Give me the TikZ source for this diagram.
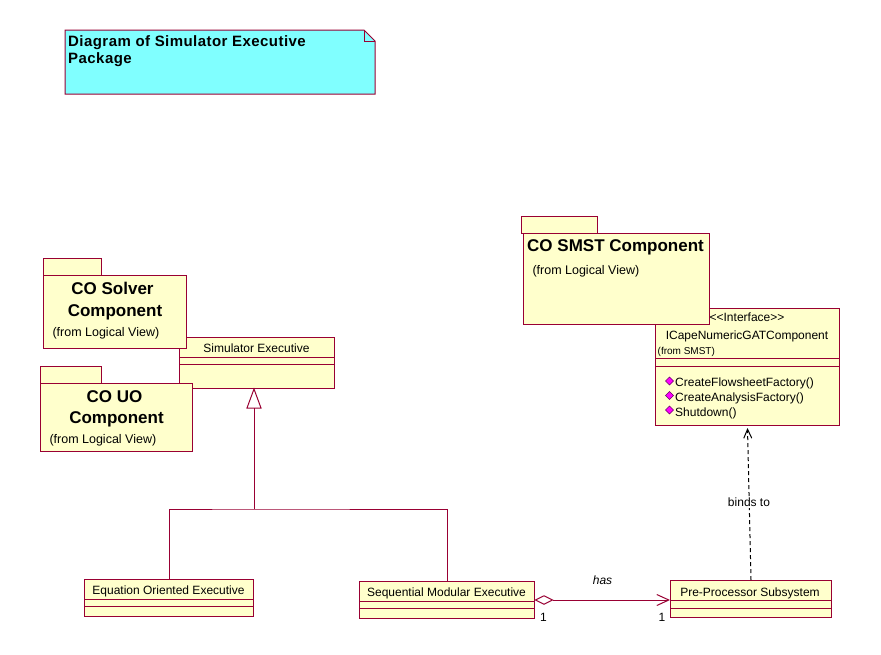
\documentclass[tikz,border=0pt]{standalone}
\usepackage{fontspec}
\setmainfont{Liberation Sans}
\usetikzlibrary{arrows.meta}
\definecolor{border}{HTML}{990033}
\definecolor{clsfill}{HTML}{FFFFCC}
\definecolor{notefill}{HTML}{80FFFF}
\definecolor{opmag}{HTML}{FF00FF}
\definecolor{opdark}{HTML}{660066}
\tikzset{
  box/.style={draw=border, fill=clsfill, line width=1pt, inner sep=0pt, anchor=north west},
  cline/.style={draw=border, line width=1pt},
  conn/.style={draw=border, line width=1pt},
  txt/.style={inner sep=0pt, anchor=base, font=\fontsize{12}{14}\selectfont},
  txtw/.style={inner sep=0pt, anchor=base west, font=\fontsize{12}{14}\selectfont},
  pkgtitle/.style={inner sep=0pt, anchor=base, font=\fontsize{17}{20}\selectfont\bfseries},
  fromlv/.style={inner sep=0pt, anchor=base west, font=\fontsize{12.5}{15}\selectfont},
  notetxt/.style={inner sep=0pt, anchor=base west, font=\fontsize{15}{18}\selectfont\bfseries\addfontfeature{LetterSpace=3}},
  opdia/.style={fill=opmag, draw=opdark, line width=0.5pt},
}
\begin{document}
\begin{tikzpicture}[x=1pt,y=-1pt]
\useasboundingbox (0,0) rectangle (881,654);
\fill[white] (0,0) rectangle (881,654);

% Note
\draw[draw=border, fill=notefill, line width=1pt] (65,30) -- (364,30) -- (375,41) -- (375,94) -- (65,94) -- cycle;
\draw[draw=border, line width=0.6pt] (364,30) -- (364,41) -- (375,41);
\node[notetxt] (note1) at (68,46) {Diagram of Simulator Executive};
\node[notetxt] (note2) at (68,63.5) {Package};

% Simulator Executive class
\node[box, minimum width=155pt, minimum height=51pt] (simexec) at (179,337) {};
\draw[cline] ([yshift=-20pt]simexec.north west) -- ([yshift=-20pt]simexec.north east);
\draw[cline] ([yshift=-27pt]simexec.north west) -- ([yshift=-27pt]simexec.north east);
\node[txt] (simexecname) at (256.5,352.5) {Simulator Executive};

% CO Solver Component package
\node[box, minimum width=58pt, minimum height=17pt] (solvertab) at (43,258) {};
\node[box, minimum width=143pt, minimum height=73pt] (solver) at (43,275) {};
\node[pkgtitle] (solvert1) at (112.5,294.5) {CO Solver};
\node[pkgtitle] (solvert2) at (115,316) {Component};
\node[fromlv] (solverfrom) at (52.3,336.7) {(from Logical View)};

% CO UO Component package
\node[box, minimum width=61pt, minimum height=17pt] (uotab) at (40,366) {};
\node[box, minimum width=152pt, minimum height=68pt] (uo) at (40,383) {};
\node[pkgtitle] (uot1) at (114.5,402) {CO UO};
\node[pkgtitle] (uot2) at (116.5,423.5) {Component};
\node[fromlv] (uofrom) at (49.3,443) {(from Logical View)};

% Interface class
\node[box, minimum width=184pt, minimum height=117pt] (iface) at (655,308) {};
\draw[cline] ([yshift=-50pt]iface.north west) -- ([yshift=-50pt]iface.north east);
\draw[cline] ([yshift=-58pt]iface.north west) -- ([yshift=-58pt]iface.north east);
\node[txt] (ifster) at (747,321.7) {<{}<Interface>{}>};
\node[txt] (ifname) at (747,339.3) {ICapeNumericGATComponent};
\node[inner sep=0pt, anchor=base west, font=\fontsize{10}{12}\selectfont] (iffrom) at (657.5,354) {(from SMST)};
\draw[opdia] (669.5,377) -- (673.5,381) -- (669.5,385) -- (665.5,381) -- cycle;
\draw[opdia] (669.5,391.5) -- (673.5,395.5) -- (669.5,399.5) -- (665.5,395.5) -- cycle;
\draw[opdia] (669.5,406) -- (673.5,410) -- (669.5,414) -- (665.5,410) -- cycle;
\node[txtw] (op1) at (675,386.7) {CreateFlowsheetFactory()};
\node[txtw] (op2) at (675,401.7) {CreateAnalysisFactory()};
\node[txtw] (op3) at (675,416) {Shutdown()};

% CO SMST Component package
\node[box, minimum width=76pt, minimum height=17pt] (smsttab) at (521,216) {};
\node[box, minimum width=186pt, minimum height=91pt] (smst) at (523,233) {};
\node[inner sep=0pt, anchor=base west, font=\fontsize{17}{20}\selectfont\bfseries] (smstt) at (527,251.7) {CO SMST Component};
\node[fromlv] (smstfrom) at (532.3,274) {(from Logical View)};

% Equation Oriented Executive
\node[box, minimum width=169pt, minimum height=37pt] (eq) at (84,579) {};
\draw[cline] ([yshift=-20pt]eq.north west) -- ([yshift=-20pt]eq.north east);
\draw[cline] ([yshift=-27pt]eq.north west) -- ([yshift=-27pt]eq.north east);
\node[txt] (eqname) at (168.5,594.3) {Equation Oriented Executive};

% Sequential Modular Executive
\node[box, minimum width=175pt, minimum height=37pt] (seq) at (359,581) {};
\draw[cline] ([yshift=-20pt]seq.north west) -- ([yshift=-20pt]seq.north east);
\draw[cline] ([yshift=-27pt]seq.north west) -- ([yshift=-27pt]seq.north east);
\node[txt] (seqname) at (446.5,596) {Sequential Modular Executive};

% Pre-Processor Subsystem
\node[box, minimum width=161pt, minimum height=37pt] (pre) at (670,580) {};
\draw[cline] ([yshift=-20pt]pre.north west) -- ([yshift=-20pt]pre.north east);
\draw[cline] ([yshift=-28pt]pre.north west) -- ([yshift=-28pt]pre.north east);
\node[txt] (prename) at (750,596) {Pre-Processor Subsystem};

% Generalization
\coordinate (genapex) at (254,389);
\coordinate (genbase) at (254,408);
\coordinate (junc) at (254,509);
\draw[conn, fill=white] (genapex) -- (261,408) -- (247,408) -- cycle;
\draw[conn] (genbase) -- (junc);
\draw[conn] (eq.north) |- (junc) -| (seq.north);

% Aggregation "has"
\coordinate (aggL) at (535.5,600);
\coordinate (aggR) at (552.5,600);
\draw[conn, fill=white] (aggL) -- (544,595.8) -- (aggR) -- (544,604.2) -- cycle;
\draw[conn, -{Straight Barb[length=12pt, width=11pt, line width=1pt]}] (aggR) -- (pre.west |- aggR);
\node[inner sep=0pt, anchor=base, font=\fontsize{12}{14}\selectfont\itshape] (has) at (602.5,584.3) {has};
\node[txtw] (m1) at (540,621) {1};
\node[txtw] (m2) at (658.5,621) {1};

% Dependency "binds to"
\draw[black, line width=1pt, dash pattern=on 4pt off 3pt, -{Straight Barb[length=9pt, width=8pt, line width=1pt]}] (pre.north) -- ([yshift=-2pt]iface.south);
\node[fill=white, inner sep=1pt, anchor=base, font=\fontsize{12}{14}\selectfont] (binds) at (749,506.7) {binds to};
\end{tikzpicture}
\end{document}
